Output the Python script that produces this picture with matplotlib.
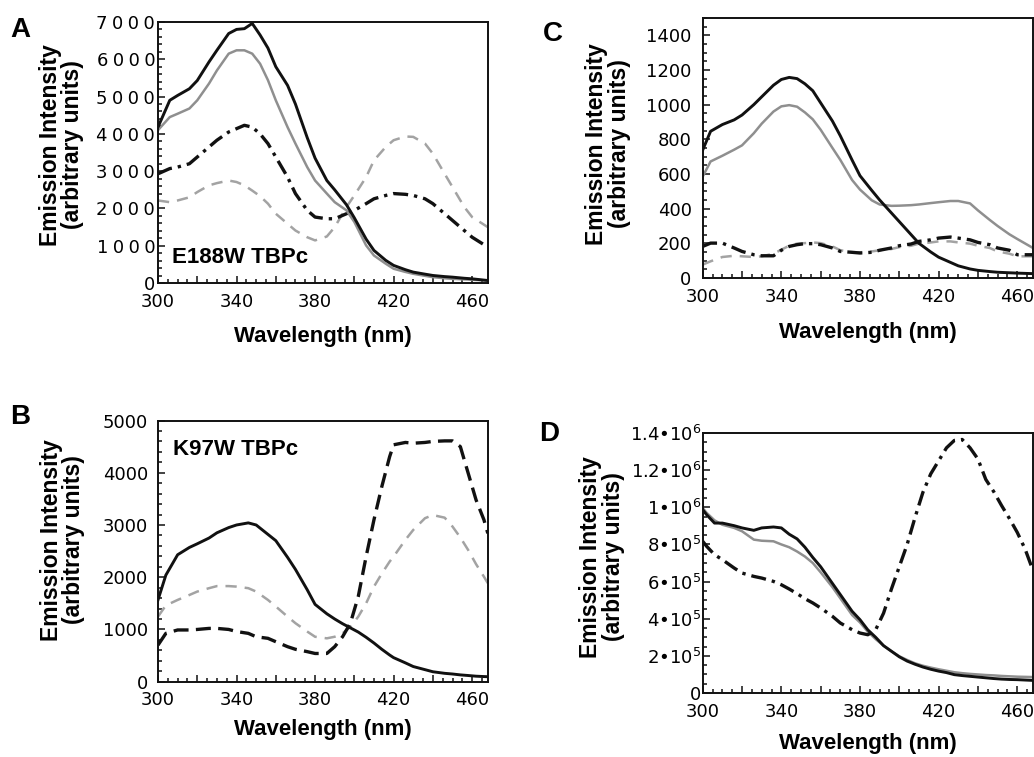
import matplotlib
matplotlib.use("Agg")
import matplotlib.pyplot as plt
from matplotlib.ticker import MultipleLocator, FuncFormatter

plt.rcParams['font.family'] = ['Liberation Sans', 'DejaVu Sans']
plt.rcParams['mathtext.fontset'] = 'dejavusans'

# ---- Panel A: E188W TBPc ----
wl_a = [300, 306, 310, 316, 320, 326, 330, 336, 340, 344, 348, 352, 356, 360, 366, 370, 376, 380,
        386, 390, 396, 400, 406, 410, 416, 420, 426, 430, 436, 440, 446, 450, 456, 460, 468]
a_black = [4180, 4900, 5030, 5210, 5430, 5930, 6240, 6690, 6800, 6820, 6960, 6650, 6300, 5800, 5300, 4800,
           3900, 3350, 2750, 2500, 2100, 1750, 1180, 876, 610, 475, 360, 295, 240, 205, 175, 160, 130, 115, 70]
a_gray = [4100, 4450, 4540, 4680, 4900, 5350, 5700, 6150, 6240, 6240, 6150, 5880, 5440, 4900, 4180, 3740,
          3110, 2750, 2400, 2170, 1950, 1640, 1010, 740, 520, 385, 300, 250, 195, 160, 130, 115, 100, 90, 70]
a_black_dash = [2930, 3070, 3110, 3200, 3380, 3650, 3830, 4050, 4140, 4230, 4180, 4000, 3740, 3380, 2840,
                2400, 1950, 1770, 1725, 1725, 1860, 1950, 2130, 2260, 2350, 2400, 2380, 2350, 2260, 2130,
                1860, 1680, 1410, 1230, 965]
a_gray_dash = [2215, 2170, 2215, 2300, 2440, 2620, 2680, 2750, 2710, 2620, 2480, 2330, 2130, 1860, 1590,
               1410, 1230, 1145, 1250, 1500, 2040, 2350, 2840, 3290, 3650, 3830, 3930, 3920, 3740, 3470,
               2930, 2575, 2040, 1770, 1500]

# ---- Panel B: K97W TBPc ----
wl_b = [300, 304, 310, 316, 320, 326, 330, 336, 340, 346, 350, 356, 360, 366, 370, 376, 380, 386, 390,
        394, 398, 402, 406, 410, 414, 418, 420, 426, 430, 436, 440, 446, 450, 454, 458, 462, 466, 468]
b_black = [1565, 2040, 2430, 2570, 2640, 2750, 2850, 2950, 3000, 3040, 3000, 2820, 2700, 2380, 2150, 1760,
           1480, 1300, 1200, 1110, 1030, 950, 850, 740, 620, 510, 460, 360, 290, 230, 190, 160, 147, 130,
           118, 105, 98, 95]
b_gray_dash = [1245, 1460, 1565, 1660, 1725, 1790, 1830, 1830, 1820, 1790, 1725, 1565, 1440, 1245, 1120,
               960, 860, 830, 860, 925, 1050, 1245, 1500, 1820, 2070, 2300, 2395, 2715, 2905, 3130, 3190,
               3140, 2970, 2760, 2520, 2250, 2010, 1885]
b_black_dash = [700, 925, 990, 990, 1000, 1020, 1020, 1000, 960, 925, 860, 830, 765, 670, 620, 575, 540,
                540, 670, 860, 1120, 1630, 2395, 3100, 3735, 4310, 4535, 4580, 4565, 4580, 4600, 4610,
                4610, 4500, 3990, 3480, 3100, 2840]

# ---- Panel C ----
wl_c = [300, 304, 310, 316, 320, 326, 330, 336, 340, 344, 348, 352, 356, 360, 366, 370, 376, 380, 386,
        390, 396, 400, 406, 410, 416, 420, 426, 430, 436, 440, 446, 450, 456, 460, 468]
c_black = [738, 846, 885, 912, 940, 1000, 1045, 1112, 1145, 1157, 1150, 1120, 1080, 1010, 905, 820, 680,
           590, 505, 450, 375, 325, 250, 200, 150, 120, 90, 70, 52, 44, 37, 33, 30, 28, 25]
c_gray = [585, 672, 705, 740, 765, 835, 890, 960, 990, 997, 988, 955, 915, 855, 750, 681, 565, 510, 448,
          424, 416, 417, 420, 424, 432, 437, 444, 444, 430, 390, 335, 300, 252, 225, 173]
c_black_dash = [182, 201, 201, 173, 153, 134, 128, 128, 160, 182, 192, 198, 198, 192, 173, 153, 148, 144,
                148, 160, 173, 186, 196, 211, 220, 230, 236, 230, 220, 205, 192, 173, 160, 134, 134]
c_gray_dash = [77, 96, 121, 128, 125, 121, 125, 140, 163, 186, 198, 201, 205, 201, 182, 160, 148, 148,
               153, 160, 167, 178, 186, 198, 205, 211, 211, 205, 198, 186, 173, 153, 140, 125, 125]

# ---- Panel D ----
wl_d = [300, 302, 306, 310, 316, 320, 326, 330, 336, 340, 344, 348, 352, 356, 360, 366, 370, 376, 380,
        384, 388, 392, 396, 400, 404, 408, 412, 416, 420, 424, 428, 432, 436, 440, 444, 448, 452, 456,
        460, 464, 468]
d_black = [987e3, 960e3, 915e3, 915e3, 901e3, 889e3, 876e3, 889e3, 894e3, 889e3, 855e3, 830e3, 785e3,
           730e3, 680e3, 590e3, 530e3, 440e3, 395e3, 340e3, 300e3, 255e3, 225e3, 195e3, 172e3, 155e3,
           140e3, 128e3, 118e3, 110e3, 99e3, 94e3, 90e3, 86e3, 82e3, 78e3, 75e3, 73e3, 72e3, 70e3, 68e3]
d_gray = [996e3, 970e3, 930e3, 906e3, 889e3, 871e3, 826e3, 820e3, 817e3, 800e3, 785e3, 762e3, 735e3,
          700e3, 650e3, 570e3, 510e3, 420e3, 380e3, 330e3, 290e3, 255e3, 225e3, 198e3, 178e3, 160e3,
          147e3, 137e3, 128e3, 120e3, 112e3, 107e3, 103e3, 100e3, 97e3, 95e3, 92e3, 90e3, 88e3, 87e3, 86e3]
d_black_dash = [817e3, 790e3, 745e3, 718e3, 673e3, 646e3, 628e3, 619e3, 601e3, 583e3, 560e3, 535e3,
                508e3, 485e3, 458e3, 413e3, 377e3, 341e3, 323e3, 314e3, 341e3, 430e3, 560e3, 680e3,
                800e3, 945e3, 1080e3, 1180e3, 1250e3, 1320e3, 1360e3, 1365e3, 1320e3, 1260e3, 1150e3,
                1085e3, 1010e3, 940e3, 865e3, 775e3, 660e3]

BLACK = '#111111'
GRAY = '#8f8f8f'
GRAY_D = '#a3a3a3'
DASH = (0, (4.5, 2.2))
DASHDOT = (0, (4.5, 1.8, 1.0, 1.8))
GDASH = (0, (4.5, 3.2))

fig = plt.figure(figsize=(10.34, 7.57), dpi=100)
ax_a = fig.add_axes([0.1528, 0.626, 0.319, 0.345])
ax_c = fig.add_axes([0.6796, 0.6328, 0.3194, 0.3435])
ax_b = fig.add_axes([0.1528, 0.0995, 0.319, 0.345])
ax_d = fig.add_axes([0.6796, 0.0845, 0.3194, 0.3435])

ax_a.plot(wl_a, a_gray_dash, color=GRAY_D, lw=1.8, linestyle=GDASH)
ax_a.plot(wl_a, a_black_dash, color=BLACK, lw=2.4, linestyle=DASHDOT)
ax_a.plot(wl_a, a_gray, color=GRAY, lw=1.8)
ax_a.plot(wl_a, a_black, color=BLACK, lw=2.1)

ax_b.plot(wl_b, b_gray_dash, color=GRAY_D, lw=1.8, linestyle=GDASH)
ax_b.plot(wl_b, b_black_dash, color=BLACK, lw=2.4, linestyle=DASH)
ax_b.plot(wl_b, b_black, color=BLACK, lw=2.1)

ax_c.plot(wl_c, c_gray_dash, color=GRAY_D, lw=1.8, linestyle=GDASH)
ax_c.plot(wl_c, c_black_dash, color=BLACK, lw=2.4, linestyle=DASHDOT)
ax_c.plot(wl_c, c_gray, color=GRAY, lw=1.8)
ax_c.plot(wl_c, c_black, color=BLACK, lw=2.1)

ax_d.plot(wl_d, d_gray, color=GRAY, lw=1.8)
ax_d.plot(wl_d, d_black, color=BLACK, lw=2.1)
ax_d.plot(wl_d, d_black_dash, color=BLACK, lw=2.4, linestyle=DASHDOT)


def xfmt(v, pos):
    return '%d' % v if int(round(v)) % 40 == 20 else ''


def wide(v, pos):
    return '\u2005'.join('%d' % v)


def sci(v, pos):
    if v == 0:
        return '0'
    e = 6 if v >= 1e6 else 5
    m = '%g' % (v / 10 ** e)
    return m + '•10$^{%d}$' % e


ylims = {ax_a: (7000, 1000, 200), ax_b: (5000, 1000, 200), ax_c: (1500, 200, 50), ax_d: (1.4e6, 2e5, 5e4)}
ypads = {ax_a: 2, ax_b: 7, ax_c: 8, ax_d: 1}
for ax in [ax_a, ax_b, ax_c, ax_d]:
    ax.set_xlim(300, 468)
    top, maj, mnr = ylims[ax]
    ax.set_ylim(0, top)
    ax.xaxis.set_major_locator(MultipleLocator(20))
    ax.xaxis.set_minor_locator(MultipleLocator(5))
    ax.xaxis.set_major_formatter(FuncFormatter(xfmt))
    ax.yaxis.set_major_locator(MultipleLocator(maj))
    ax.yaxis.set_minor_locator(MultipleLocator(mnr))
    ax.tick_params(which='both', direction='in', top=False, right=False, width=1.1, color='#111111')
    ax.tick_params(which='major', length=5)
    ax.tick_params(which='minor', length=2.8)
    ax.tick_params(axis='x', which='major', pad=7, labelsize=13, labelfontfamily='DejaVu Sans')
    ax.tick_params(axis='y', which='major', pad=ypads[ax], labelsize=13, labelfontfamily='DejaVu Sans')
    for s in ax.spines.values():
        s.set_linewidth(1.4)
        s.set_color('#111111')
    ax.set_xlabel('Wavelength (nm)', fontsize=16, fontweight='bold')
    ax.set_ylabel('Emission Intensity\n(arbitrary units)', fontsize=16.5, fontweight='bold', linespacing=0.98)

ax_a.yaxis.set_major_formatter(FuncFormatter(wide))
ax_d.yaxis.set_major_formatter(FuncFormatter(sci))

ax_a.yaxis.set_label_coords(-0.223, 0.53)
ax_c.yaxis.set_label_coords(-0.217, 0.515)
ax_b.yaxis.set_label_coords(-0.22, 0.543)
ax_d.yaxis.set_label_coords(-0.235, 0.523)
ax_a.xaxis.set_label_coords(0.5, -0.163)
ax_c.xaxis.set_label_coords(0.5, -0.17)
ax_b.xaxis.set_label_coords(0.5, -0.143)
ax_d.xaxis.set_label_coords(0.5, -0.154)

ax_a.text(0.042, 0.077, 'E188W TBPc', transform=ax_a.transAxes, fontsize=16, fontweight='bold')
ax_b.text(0.045, 0.869, 'K97W TBPc', transform=ax_b.transAxes, fontsize=16, fontweight='bold')

fig.text(10 / 1034, 1 - 17 / 757, 'A', fontsize=20, fontweight='bold', va='top')
fig.text(10 / 1034, 1 - 404 / 757, 'B', fontsize=20, fontweight='bold', va='top')
fig.text(543 / 1034, 1 - 21 / 757, 'C', fontsize=20, fontweight='bold', va='top')
fig.text(539 / 1034, 1 - 421 / 757, 'D', fontsize=20, fontweight='bold', va='top')

fig.savefig('out.png', dpi=100, facecolor='white')
